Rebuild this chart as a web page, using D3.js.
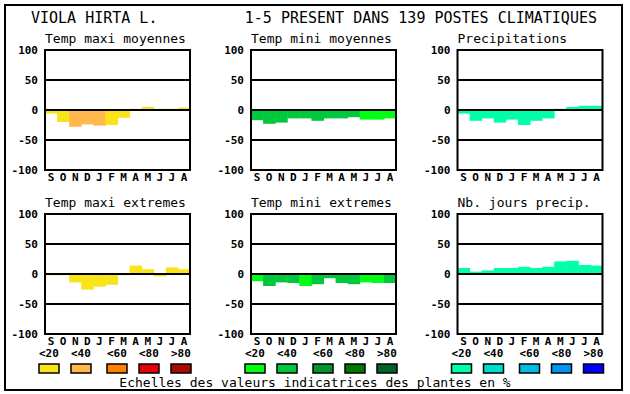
<!DOCTYPE html>
<html>
<head>
  <meta charset="utf-8">
  <title>Viola hirta L.</title>
  <script src="https://d3js.org/d3.v7.min.js"></script>
  <style>
    body { margin: 0; background: #fff; }
    svg text { font-family: "DejaVu Sans Mono", "Liberation Mono", monospace; fill: #000; }
    .ttl { font-size: 15px; }
    .ptitle { font-size: 13px; }
    .tick { font-size: 11px; font-weight: bold; }
    .mon { font-size: 11px; font-weight: bold; }
  </style>
</head>
<body>
  <div id="chart"></div>
  <script>
    // months and scale
    const months = ["S", "O", "N", "D", "J", "F", "M", "A", "M", "J", "J", "A"];
    const yTicks = [100, 50, 0, -50, -100];
    const classLabels = ["<20", "<40", "<60", "<80", ">80"];

    // colour ramps (one per column)
    const tempColors = ["#f8e418", "#ffb84d", "#ff7f00", "#e80008", "#a80c00"];
    const minColors = ["#00ff14", "#00c83c", "#00962d", "#007800", "#006428"];
    const precColors = ["#00ffaa", "#00dccc", "#00bce0", "#0096ee", "#0000ff"];

    // values (deviation in %) and colour class per month
    const maxiMoy = [-6, -20, -28, -24, -26, -25, -13, 2, 5, 2, 2, 4];
    const maxiMoyCls = [0, 0, 1, 1, 1, 0, 0, 0, 0, 0, 0, 0];
    const miniMoy = [-17, -23, -21, -14, -14, -18, -14, -14, -12, -16, -16, -14];
    const miniMoyCls = [1, 1, 1, 1, 1, 1, 1, 1, 1, 0, 0, 0];
    const precip = [-6, -18, -14, -21, -16, -25, -18, -14, 2, 5, 7, 7];
    const precipCls = [0, 0, 0, 0, 0, 0, 0, 0, 0, 0, 0, 0];
    const maxiExt = [-2, -2, -14, -26, -21, -18, -2, 14, 8, -4, 11, 8];
    const maxiExtCls = [0, 0, 0, 0, 0, 0, 0, 0, 0, 0, 0, 0];
    const miniExt = [-12, -20, -14, -15, -20, -17, -7, -15, -17, -14, -15, -15];
    const miniExtCls = [0, 1, 1, 1, 0, 1, 1, 1, 1, 0, 0, 1];
    const nbJours = [10, 4, 6, 10, 10, 12, 10, 12, 21, 22, 15, 14];
    const nbJoursCls = [0, 0, 0, 0, 0, 0, 0, 0, 0, 0, 0, 0];

    const panels = [
      { title: "Temp maxi moyennes", vals: maxiMoy, cls: maxiMoyCls, colors: tempColors, col: 0, row: 0 },
      { title: "Temp mini moyennes", vals: miniMoy, cls: miniMoyCls, colors: minColors, col: 1, row: 0 },
      { title: "Precipitations", vals: precip, cls: precipCls, colors: precColors, col: 2, row: 0 },
      { title: "Temp maxi extremes", vals: maxiExt, cls: maxiExtCls, colors: tempColors, col: 0, row: 1 },
      { title: "Temp mini extremes", vals: miniExt, cls: miniExtCls, colors: minColors, col: 1, row: 1 },
      { title: "Nb. jours precip.", vals: nbJours, cls: nbJoursCls, colors: precColors, col: 2, row: 1 }
    ];

    const W = 630, H = 394;
    const colX = [45, 251, 457.5];
    const rowY = [50, 214];
    const pw = 145, ph = 120;
    const legendOffsets = [-6, 26, 62, 94, 126];

    const svg = d3.select("#chart").append("svg")
      .attr("width", W).attr("height", H);

    // outer frame
    svg.append("rect")
      .attr("x", 5).attr("y", 5).attr("width", 617).attr("height", 385)
      .attr("fill", "none").attr("stroke", "#000").attr("stroke-width", 2);

    svg.append("text").attr("class", "ttl").attr("x", 31).attr("y", 23)
      .text("VIOLA HIRTA L.");
    svg.append("text").attr("class", "ttl").attr("x", 597).attr("y", 23)
      .attr("text-anchor", "end")
      .text("1-5 PRESENT DANS 139 POSTES CLIMATIQUES");

    panels.forEach(p => {
      const x0 = colX[p.col], y0 = rowY[p.row];
      const g = svg.append("g");

      const x = d3.scaleBand().domain(d3.range(months.length)).range([x0, x0 + pw]);
      const y = d3.scaleLinear().domain([-100, 100]).range([y0 + ph, y0]);

      g.append("text").attr("class", "ptitle")
        .attr("x", x0).attr("y", y0 - 7).text(p.title);

      // bars
      g.selectAll("rect.bar").data(p.vals).join("rect")
        .attr("class", "bar")
        .attr("x", (d, i) => x(i))
        .attr("width", x.bandwidth() + 0.5)
        .attr("y", d => y(Math.max(0, d)))
        .attr("height", d => Math.abs(y(d) - y(0)))
        .attr("fill", (d, i) => p.colors[p.cls[i]]);

      // grid lines at 50, 0, -50
      g.selectAll("line.grid").data([50, 0, -50]).join("line")
        .attr("x1", x0).attr("x2", x0 + pw)
        .attr("y1", d => y(d)).attr("y2", d => y(d))
        .attr("stroke", "#000").attr("stroke-width", 2);

      // frame
      g.append("rect")
        .attr("x", x0).attr("y", y0).attr("width", pw).attr("height", ph)
        .attr("fill", "none").attr("stroke", "#000").attr("stroke-width", 2);

      // y tick labels
      g.selectAll("text.tick").data(yTicks).join("text")
        .attr("class", "tick")
        .attr("x", x0 - 7).attr("y", d => y(d) + 4)
        .attr("text-anchor", "end")
        .text(d => d);

      // month labels
      g.selectAll("text.mon").data(months).join("text")
        .attr("class", "mon")
        .attr("x", (d, i) => x(i) + x.bandwidth() / 2)
        .attr("y", y0 + ph + 11)
        .attr("text-anchor", "middle")
        .text(d => d);

      // legend under the bottom row
      if (p.row === 1) {
        classLabels.forEach((lab, k) => {
          g.append("text").attr("class", "mon")
            .attr("x", x0 + legendOffsets[k]).attr("y", 357)
            .text(lab);
          g.append("rect")
            .attr("x", x0 + legendOffsets[k]).attr("y", 364)
            .attr("width", 20).attr("height", 9)
            .attr("fill", p.colors[k])
            .attr("stroke", "#000").attr("stroke-width", 1.5);
        });
      }
    });

    svg.append("text").attr("class", "ptitle")
      .attr("x", 315).attr("y", 387).attr("text-anchor", "middle")
      .text("Echelles des valeurs indicatrices des plantes en %");
  </script>
</body>
</html>
